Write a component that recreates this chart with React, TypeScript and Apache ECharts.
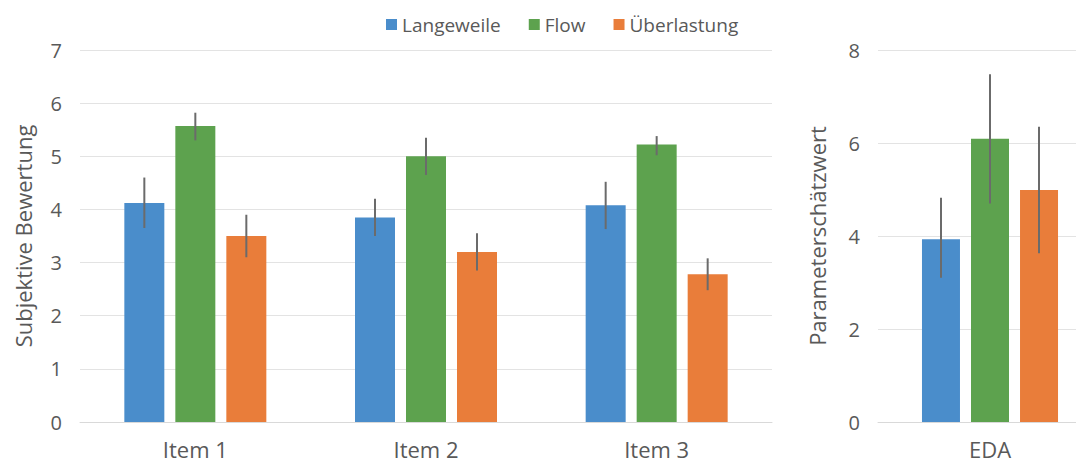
import React, { useEffect, useRef } from "react";
import * as echarts from "echarts";

const itemCategories = ["Item 1", "Item 2", "Item 3"];
const edaCategories = ["EDA"];
const seriesNames = ["Langeweile", "Flow", "Überlastung"];
const colors = ["#4A8DCB", "#5DA24E", "#E97D3A"];

// subjective ratings (means)
const langeweile = [4.12, 3.85, 4.08];
const flow = [5.57, 5.0, 5.22];
const ueberlastung = [3.5, 3.2, 2.78];
// error bar ranges [low, high]
const langeweileErr = [[3.65, 4.6], [3.5, 4.2], [3.63, 4.52]];
const flowErr = [[5.3, 5.82], [4.65, 5.35], [5.02, 5.38]];
const ueberlastungErr = [[3.1, 3.9], [2.85, 3.55], [2.48, 3.08]];

// EDA parameter estimates
const edaLangeweile = [3.93];
const edaFlow = [6.09];
const edaUeberlastung = [4.99];
const edaLangeweileErr = [[3.1, 4.82]];
const edaFlowErr = [[4.7, 7.48]];
const edaUeberlastungErr = [[3.63, 6.35]];

const FONT = "'Open Sans', 'Noto Sans', sans-serif";
const TEXT = "#595959";

export default function App() {
  const ref = useRef<HTMLDivElement>(null);
  useEffect(() => {
    if (!ref.current) return;
    const chart = echarts.init(ref.current, undefined, { renderer: "svg" });

    const errSeries = (
      name: string,
      axisIdx: number,
      errs: number[][],
      seriesIdx: number,
      barW: number,
      gap: number
    ) => ({
      type: "custom",
      name: name + " err",
      xAxisIndex: axisIdx,
      yAxisIndex: axisIdx,
      z: 10,
      silent: true,
      data: errs.map((e, i) => [i, e[0], e[1]]),
      encode: { x: 0, y: [1, 2] },
      renderItem: (params: any, api: any) => {
        const lo = api.coord([api.value(0), api.value(1)]);
        const hi = api.coord([api.value(0), api.value(2)]);
        const off = (seriesIdx - 1) * (barW + gap);
        const x = lo[0] + off;
        return {
          type: "line",
          shape: { x1: x, y1: lo[1], x2: x, y2: hi[1] },
          style: { stroke: "#6b6b6b", lineWidth: 2 },
        };
      },
    });

    const bar = (name: string, axisIdx: number, data: number[], i: number, barW: number, gapPct: string) => ({
      type: "bar",
      name,
      xAxisIndex: axisIdx,
      yAxisIndex: axisIdx,
      data,
      barWidth: barW,
      barGap: gapPct,
      itemStyle: { color: colors[i] },
    });

    const yLabel = { color: TEXT, fontSize: 20, fontFamily: FONT, margin: 18 };
    const xLabel = { color: TEXT, fontSize: 22, fontFamily: FONT, margin: 16 };
    const nameStyle = { color: TEXT, fontSize: 22, fontFamily: FONT };

    chart.setOption({
      animation: false,
      textStyle: { fontFamily: FONT },
      legend: {
        data: seriesNames,
        top: 10,
        left: 381,
        itemWidth: 11,
        itemHeight: 11,
        itemGap: 28,
        icon: "rect",
        textStyle: { color: TEXT, fontSize: 19, fontFamily: FONT },
      },
      grid: [
        { left: 80, right: 330, top: 50, bottom: 42 },
        { left: 878, right: 0, top: 50, bottom: 42 },
      ],
      xAxis: [
        {
          type: "category",
          gridIndex: 0,
          data: itemCategories,
          axisTick: { show: false },
          axisLine: { lineStyle: { color: "#d9d9d9" } },
          axisLabel: xLabel,
        },
        {
          type: "category",
          gridIndex: 1,
          data: edaCategories,
          axisTick: { show: false },
          axisLine: { lineStyle: { color: "#d9d9d9" } },
          axisLabel: xLabel,
        },
      ],
      yAxis: [
        {
          type: "value",
          gridIndex: 0,
          min: 0,
          max: 7,
          interval: 1,
          name: "Subjektive Bewertung",
          nameLocation: "middle",
          nameGap: 46,
          nameTextStyle: nameStyle,
          axisLabel: yLabel,
          axisLine: { show: false },
          splitLine: { lineStyle: { color: "#e3e3e3" } },
        },
        {
          type: "value",
          gridIndex: 1,
          min: 0,
          max: 8,
          interval: 2,
          name: "Parameterschätzwert",
          nameLocation: "middle",
          nameGap: 50,
          nameTextStyle: nameStyle,
          axisLabel: yLabel,
          axisLine: { show: false },
          splitLine: { lineStyle: { color: "#e3e3e3" } },
        },
      ],
      series: [
        bar(seriesNames[0], 0, langeweile, 0, 40, "27.5%"),
        bar(seriesNames[1], 0, flow, 1, 40, "27.5%"),
        bar(seriesNames[2], 0, ueberlastung, 2, 40, "27.5%"),
        bar(seriesNames[0], 1, edaLangeweile, 0, 38, "29%"),
        bar(seriesNames[1], 1, edaFlow, 1, 38, "29%"),
        bar(seriesNames[2], 1, edaUeberlastung, 2, 38, "29%"),
        errSeries(seriesNames[0], 0, langeweileErr, 0, 40, 11),
        errSeries(seriesNames[1], 0, flowErr, 1, 40, 11),
        errSeries(seriesNames[2], 0, ueberlastungErr, 2, 40, 11),
        errSeries(seriesNames[0], 1, edaLangeweileErr, 0, 38, 11),
        errSeries(seriesNames[1], 1, edaFlowErr, 1, 38, 11),
        errSeries(seriesNames[2], 1, edaUeberlastungErr, 2, 38, 11),
      ],
    });
    return () => chart.dispose();
  }, []);
  return (
    <div style={{ position: "fixed", left: 0, top: 0, width: 1076, height: 464, overflow: "hidden", background: "#fff" }}>
      <div ref={ref} style={{ position: "absolute", left: 0, top: 0, width: 1102, height: 464 }} />
    </div>
  );
}
